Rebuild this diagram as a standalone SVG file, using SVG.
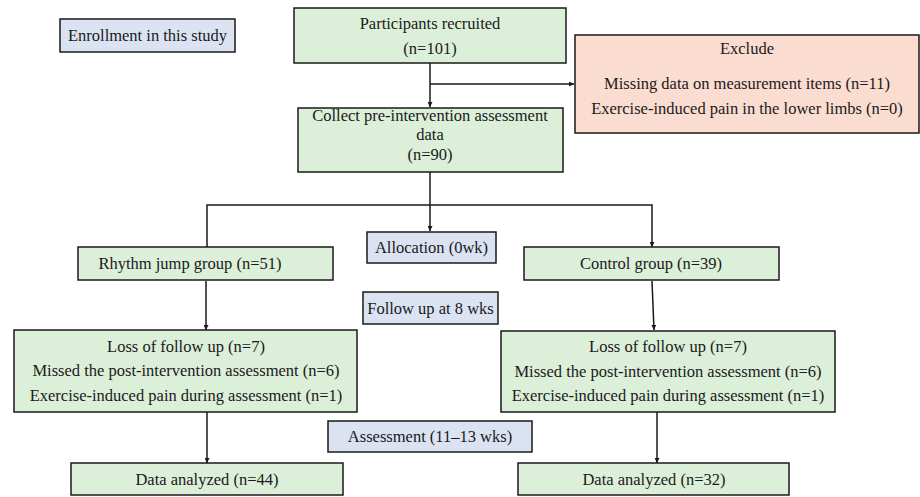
<svg xmlns="http://www.w3.org/2000/svg" width="920" height="497" viewBox="0 0 920 497">
<style>
.g{fill:#dcefd9;stroke:#1a1a1a;stroke-width:1.5}
.b{fill:#dbe3f2;stroke:#1a1a1a;stroke-width:1.5}
.r{fill:#fbdcd1;stroke:#1a1a1a;stroke-width:1.5}
text{font-family:"Liberation Serif","DejaVu Serif",serif;font-size:16.5px;fill:#1a1a1a;text-anchor:middle}
.c{fill:none;stroke:#1a1a1a;stroke-width:1.5}
</style>
<defs>
<marker id="ah" viewBox="0 0 10 10" refX="10" refY="5" markerWidth="5" markerHeight="5" orient="auto" markerUnits="userSpaceOnUse">
<path d="M0,0 L10,5 L0,10 z" fill="#1a1a1a"/>
</marker>
</defs>
<rect width="920" height="497" fill="#ffffff"/>
<g id="connectors">
<path class="c" d="M430,63 V107" marker-end="url(#ah)"/>
<path class="c" d="M430,84 H574" marker-end="url(#ah)"/>
<path class="c" d="M430,172 V231" marker-end="url(#ah)"/>
<path class="c" d="M207,247 V205 H652 V247" marker-end="url(#ah)"/>
<path class="c" d="M206,281 V330" marker-end="url(#ah)"/>
<path class="c" d="M652,281 L654,330" marker-end="url(#ah)"/>
<path class="c" d="M207,412 V463" marker-end="url(#ah)"/>
<path class="c" d="M657,412 V463" marker-end="url(#ah)"/>
</g>
<g id="enrollment"><rect class="b" x="60" y="19" width="175" height="33"/><text x="147.5" y="41">Enrollment in this study</text></g>
<g id="participants"><rect class="g" x="294" y="8" width="272" height="55"/><text x="430" y="29">Participants recruited</text><text x="430" y="54">(n=101)</text></g>
<g id="exclude"><rect class="r" x="575" y="35" width="344" height="98"/><text x="747" y="54">Exclude</text><text x="747" y="89">Missing data on measurement items (n=11)</text><text x="747" y="114">Exercise-induced pain in the lower limbs (n=0)</text></g>
<g id="collect"><rect class="g" x="298" y="108" width="265" height="64"/><text x="430" y="121">Collect pre-intervention assessment</text><text x="430" y="140">data</text><text x="430" y="160">(n=90)</text></g>
<g id="allocation"><rect class="b" x="367" y="232" width="129" height="31"/><text x="431.5" y="253">Allocation (0wk)</text></g>
<g id="rhythm"><rect class="g" x="78" y="247" width="255" height="33"/><text x="190" y="269">Rhythm jump group (n=51)</text></g>
<g id="control"><rect class="g" x="524" y="247" width="255" height="33"/><text x="651" y="269">Control group (n=39)</text></g>
<g id="followup"><rect class="b" x="363" y="292" width="135" height="32"/><text x="430.5" y="314">Follow up at 8 wks</text></g>
<g id="loss-left"><rect class="g" x="14" y="330" width="343" height="82"/><text x="186" y="352">Loss of follow up (n=7)</text><text x="186" y="376">Missed the post-intervention assessment (n=6)</text><text x="186" y="401">Exercise-induced pain during assessment (n=1)</text></g>
<g id="loss-right"><rect class="g" x="501" y="331" width="334" height="81"/><text x="668" y="352">Loss of follow up (n=7)</text><text x="668" y="377">Missed the post-intervention assessment (n=6)</text><text x="668" y="401">Exercise-induced pain during assessment (n=1)</text></g>
<g id="assessment"><rect class="b" x="328" y="421" width="204" height="31"/><text x="430" y="442">Assessment (11–13 wks)</text></g>
<g id="analyzed-left"><rect class="g" x="71" y="463" width="272" height="32"/><text x="207" y="485">Data analyzed (n=44)</text></g>
<g id="analyzed-right"><rect class="g" x="518" y="463" width="271" height="32"/><text x="654" y="485">Data analyzed (n=32)</text></g>
</svg>
